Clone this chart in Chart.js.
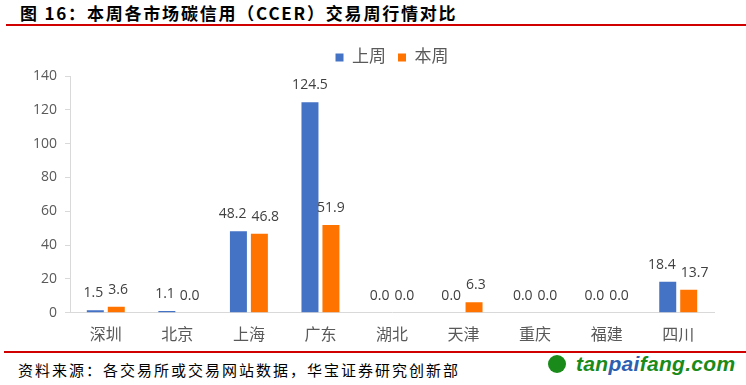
<!DOCTYPE html>
<html>
<head>
<meta charset="utf-8">
<script src="https://cdn.jsdelivr.net/npm/chart.js@4/dist/chart.umd.min.js"></script>
<style>
  html, body { margin: 0; padding: 0; background: #fff; }
  #wrap { position: relative; width: 746px; height: 385px; overflow: hidden; }
  #title { position: absolute; left: 20px; top: 0px; font: bold 17px "Noto Sans CJK SC", sans-serif; color: #000; letter-spacing: 1.8px; white-space: nowrap; }
  .redline { position: absolute; left: 6px; right: 0; height: 2px; background: #d00000; }
  #source { position: absolute; left: 18px; top: 359px; font: 15px "Noto Sans CJK SC", sans-serif; color: #000; letter-spacing: 2px; white-space: nowrap; }
  #logo { position: absolute; left: 548px; top: 352px; font: italic bold 21px "Liberation Sans", Arial, sans-serif; color: #1a8a1a; white-space: nowrap; letter-spacing: 0.3px; }
  #logo .ic { display: inline-block; width: 18px; height: 18px; border-radius: 50%; background: #1a8a1a; vertical-align: -2px; margin-right: 10px; }
  #logo .pai { color: #2d5fb0; }
  #chartBox { position: absolute; left: 0; top: 30px; width: 746px; height: 320px; }
</style>
</head>
<body>
<div id="wrap">
  <div id="title">图 16：本周各市场碳信用（CCER）交易周行情对比</div>
  <div class="redline" style="top:24px"></div>
  <div id="chartBox"><canvas id="myChart"></canvas></div>
  <div class="redline" style="top:351px; left:4px"></div>
  <div id="source">资料来源：各交易所或交易网站数据，华宝证券研究创新部</div>
  <div id="logo"><span class="ic"></span>tan<span class="pai">pai</span>fang.com</div>
</div>
<script>
'use strict';

var markets = ['深圳', '北京', '上海', '广东', '湖北', '天津', '重庆', '福建', '四川'];
var lastWeek = [1.5, 1.1, 48.2, 124.5, 0.0, 0.0, 0.0, 0.0, 18.4];
var thisWeek = [3.6, 0.0, 46.8, 51.9, 0.0, 6.3, 0.0, 0.0, 13.7];
var seriesNames = ['上周', '本周'];

var fontFamily = "'Open Sans', 'Noto Sans CJK SC', sans-serif";

// numbers above each bar, pushed apart a little when the pair would touch
var valueLabels = {
  id: 'valueLabels',
  afterDatasetsDraw: function(chart) {
    var ctx = chart.ctx;
    ctx.save();
    ctx.font = '14px ' + fontFamily;
    ctx.fillStyle = '#404040';
    ctx.textAlign = 'center';
    ctx.textBaseline = 'alphabetic';
    var m0 = chart.getDatasetMeta(0).data;
    var m1 = chart.getDatasetMeta(1).data;
    var ds = chart.data.datasets;
    m0.forEach(function(bar, j) {
      var b2 = m1[j];
      var t1 = ds[0].data[j].toFixed(1);
      var t2 = ds[1].data[j].toFixed(1);
      var w1 = ctx.measureText(t1).width;
      var w2 = ctx.measureText(t2).width;
      var x1 = bar.x, x2 = b2.x;
      var overlap = (x1 + w1 / 2 + 5) - (x2 - w2 / 2);
      if (overlap > 0 && Math.abs(bar.y - b2.y) < 16) {
        x1 -= overlap / 2;
        x2 += overlap / 2;
      }
      ctx.fillText(t1, x1, bar.y - 13);
      ctx.fillText(t2, x2, b2.y - 13);
    });
    ctx.restore();
  }
};

var ctx = document.getElementById('myChart');

new Chart(ctx, {
  type: 'bar',
  data: {
    labels: markets,
    datasets: [{
      label: seriesNames[0],
      data: lastWeek,
      backgroundColor: '#4472C4',
      categoryPercentage: 0.586,
      barPercentage: 0.81
    }, {
      label: seriesNames[1],
      data: thisWeek,
      backgroundColor: '#FF7300',
      categoryPercentage: 0.586,
      barPercentage: 0.81
    }]
  },
  options: {
    responsive: true,
    maintainAspectRatio: false,
    animation: false,
    layout: { padding: { left: 25, right: 32, top: 7, bottom: 0 } },
    plugins: {
      legend: {
        position: 'top',
        fullSize: false,
        labels: {
          boxWidth: 8,
          boxHeight: 8,
          color: '#595959',
          font: { size: 17, family: fontFamily },
          padding: 12
        }
      },
      tooltip: { enabled: false }
    },
    scales: {
      x: {
        grid: { display: false },
        border: { color: '#d9d9d9' },
        ticks: { color: '#595959', font: { size: 16, family: fontFamily }, padding: 5 }
      },
      y: {
        min: 0,
        max: 140,
        grid: { drawOnChartArea: false, drawTicks: true, tickLength: 5, color: '#d9d9d9' },
        border: { color: '#d9d9d9' },
        ticks: { stepSize: 20, color: '#595959', font: { size: 14, family: fontFamily }, padding: 8 }
      }
    }
  },
  plugins: [valueLabels]
});
</script>
</body>
</html>
